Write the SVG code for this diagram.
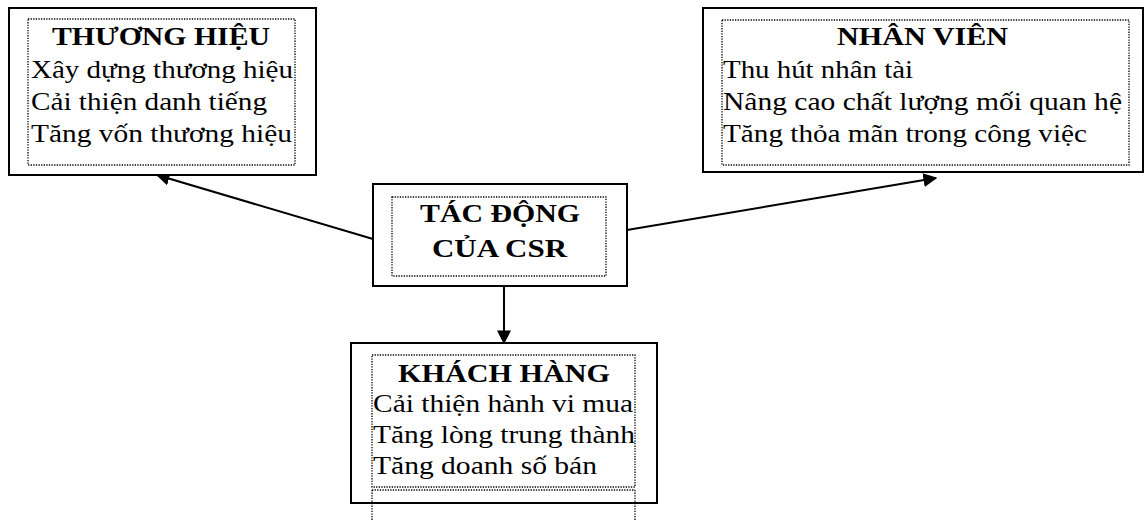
<svg xmlns="http://www.w3.org/2000/svg" width="1146" height="521" viewBox="0 0 1146 521">
<defs>
<style>
.outer{fill:#fff;stroke:#000;stroke-width:2}
.inner{fill:none;stroke:#000;stroke-width:1.3;stroke-dasharray:1.3 1.3}
.t{font-family:"Liberation Serif","Times New Roman",serif;font-size:26px;fill:#000}
.b{font-family:"Liberation Serif","Times New Roman",serif;font-size:26px;font-weight:bold;fill:#000}
.c{stroke:#000;stroke-width:2;fill:none}
</style>
<marker id="ah" viewBox="0 0 10 10" refX="9" refY="5" markerWidth="7" markerHeight="7" markerUnits="strokeWidth" orient="auto">
<path d="M0,0 L10,5 L0,10 z" fill="#000"/>
</marker>
</defs>
<rect width="1146" height="521" fill="#fff"/>
<g id="connectors">
<line class="c" x1="373" y1="239" x2="157" y2="175" marker-end="url(#ah)"/>
<line class="c" x1="627" y1="230" x2="936" y2="178" marker-end="url(#ah)"/>
<line class="c" x1="504" y1="286" x2="504" y2="343" marker-end="url(#ah)"/>
</g>
<g id="thuong-hieu">
<rect class="outer" x="9" y="8" width="307" height="167"/>
<rect class="inner" x="28" y="19" width="267" height="146"/>
<text class="b" x="52" y="45" textLength="218" lengthAdjust="spacingAndGlyphs">THƯƠNG HIỆU</text>
<text class="t" x="31" y="78" textLength="262" lengthAdjust="spacingAndGlyphs">Xây dựng thương hiệu</text>
<text class="t" x="31" y="110" textLength="236" lengthAdjust="spacingAndGlyphs">Cải thiện danh tiếng</text>
<text class="t" x="31" y="142" textLength="261" lengthAdjust="spacingAndGlyphs">Tăng vốn thương hiệu</text>
</g>
<g id="nhan-vien">
<rect class="outer" x="703" y="8" width="440" height="164"/>
<rect class="inner" x="722" y="20" width="407" height="145"/>
<text class="b" x="837" y="45" textLength="171" lengthAdjust="spacingAndGlyphs">NHÂN VIÊN</text>
<text class="t" x="723" y="78" textLength="190" lengthAdjust="spacingAndGlyphs">Thu hút nhân tài</text>
<text class="t" x="723" y="110" textLength="399" lengthAdjust="spacingAndGlyphs">Nâng cao chất lượng mối quan hệ</text>
<text class="t" x="723" y="142" textLength="364" lengthAdjust="spacingAndGlyphs">Tăng thỏa mãn trong công việc</text>
</g>
<g id="tac-dong">
<rect class="outer" x="373" y="184" width="254" height="102"/>
<rect class="inner" x="392" y="197" width="214" height="79"/>
<text class="b" x="420" y="222" textLength="160" lengthAdjust="spacingAndGlyphs">TÁC ĐỘNG</text>
<text class="b" x="432" y="257" textLength="135" lengthAdjust="spacingAndGlyphs">CỦA CSR</text>
</g>
<g id="khach-hang">
<rect class="outer" x="351" y="343" width="306" height="160"/>
<rect class="inner" x="372" y="355" width="263" height="132"/>
<path class="inner" d="M372,490 H635 M372,490 V521 M635,490 V521"/>
<text class="b" x="398" y="382" textLength="212" lengthAdjust="spacingAndGlyphs">KHÁCH HÀNG</text>
<text class="t" x="373" y="412" textLength="260" lengthAdjust="spacingAndGlyphs">Cải thiện hành vi mua</text>
<text class="t" x="373" y="443" textLength="262" lengthAdjust="spacingAndGlyphs">Tăng lòng trung thành</text>
<text class="t" x="373" y="474" textLength="224" lengthAdjust="spacingAndGlyphs">Tăng doanh số bán</text>
</g>
</svg>
